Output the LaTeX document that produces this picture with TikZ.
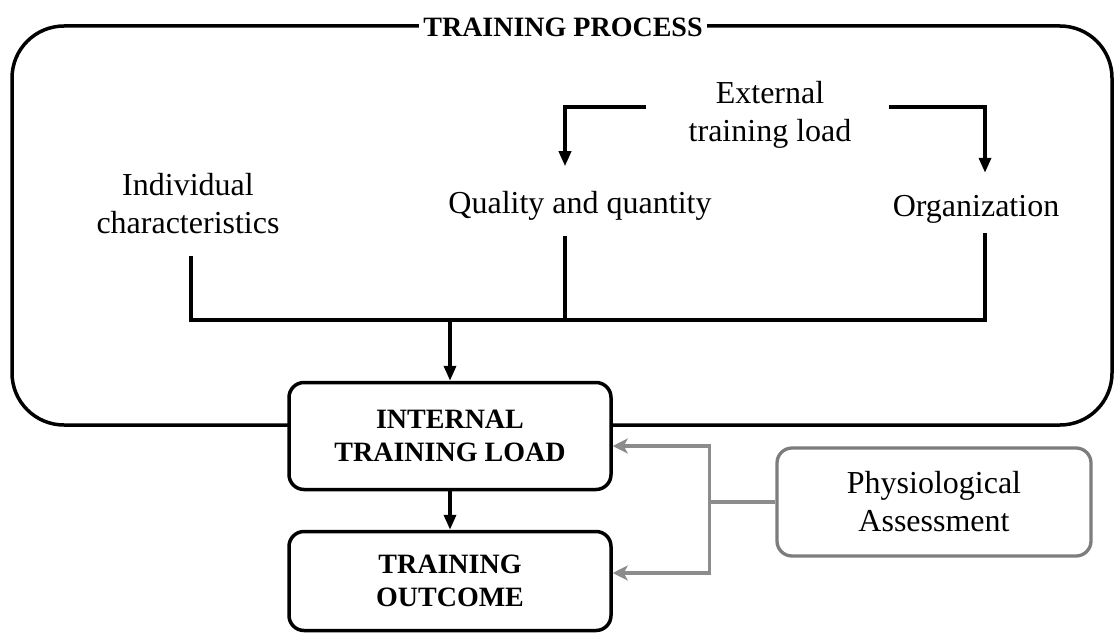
\documentclass[tikz,border=0pt]{standalone}
\usepackage{fontspec}
\setmainfont{Liberation Serif}
\usetikzlibrary{arrows.meta}
\definecolor{lgrey}{RGB}{140,140,140}
\definecolor{bgrey}{RGB}{125,125,125}
\begin{document}
\begin{tikzpicture}[x=1pt,y=-1pt,
    txt/.style={align=center,inner sep=0pt,font=\fontsize{32}{38}\selectfont},
    bold/.style={align=center,font=\fontsize{28}{33.5}\selectfont\bfseries},
    bx/.style={bold,draw,line width=3.5pt,rounded corners=15pt,fill=white,minimum width=322pt,inner sep=0pt},
    gbx/.style={txt,draw=bgrey,line width=3.3pt,rounded corners=15pt,fill=white,minimum width=314pt,minimum height=108pt},
    ln/.style={line width=3.5pt},
    arr/.style={ln,-{Triangle[length=15pt,width=12pt]}},
    gln/.style={lgrey,line width=3.3pt},
    garr/.style={gln,-{Stealth[length=15pt,width=15pt,inset=4pt]}}]
    \useasboundingbox(0,0)rectangle(1115,634);

    % frame of the training process
    \draw[line width=3.5pt,rounded corners=52pt](12,26)rectangle(1112,425);
    \node[bold,fill=white,inner xsep=4pt,inner ysep=2pt,font=\fontsize{28}{33}\selectfont\bfseries](proc)at(563,27){TRAINING PROCESS};

    \node[txt](ext)at(770,115){External\\training load};
    \node[txt](indiv)at(188,204){Individual\\characteristics};
    \node[txt](qual)at(580,206){Quality and quantity};
    \node[txt](org)at(976,209){Organization};

    \node[bx,minimum height=107pt](itl)at(450,436){INTERNAL\\TRAINING LOAD};
    \node[bx,minimum height=99pt](out)at(450,581){TRAINING\\OUTCOME};
    \node[gbx](phys)at(934,502){Physiological\\Assessment};

    % external load splits
    \draw[arr]([xshift=-42pt,yshift=8pt]ext.west)-|([xshift=-15pt,yshift=25pt]qual.north);
    \draw[arr]([xshift=37pt,yshift=8pt]ext.east)-|([xshift=9pt,yshift=22pt]org.north);

    % collecting line
    \coordinate(bus)at(450,320);
    \draw[ln]([xshift=3pt,yshift=-22pt]indiv.south)|-(bus)-|([xshift=9pt,yshift=-10pt]org.south);
    \draw[ln]([xshift=-15pt,yshift=-15pt]qual.south)--([xshift=-15pt]qual.south|-bus);
    \draw[arr](bus)--(itl.north);
    \draw[arr](itl.south)--(out.north);

    % assessment feedback
    \draw[gln](phys.west)--++(-66pt,0)coordinate(gj);
    \draw[garr](gj)|-([yshift=-10pt]itl.east);
    \draw[garr](gj)|-([yshift=8pt]out.east);
\end{tikzpicture}
\end{document}
